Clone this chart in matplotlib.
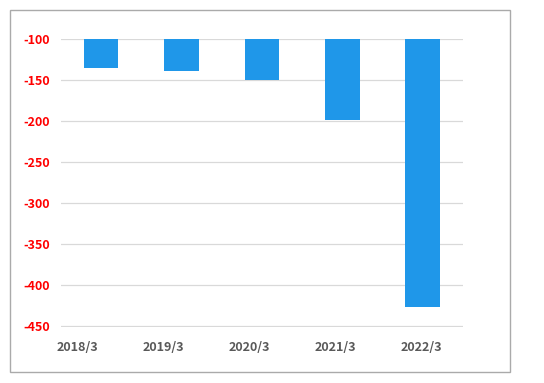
import matplotlib.pyplot as plt
from matplotlib.patches import Rectangle

# Data
periods = ['2018/3', '2019/3', '2020/3', '2021/3', '2022/3']
values = [-135, -138, -149, -199, -427]
yticks = [-100, -150, -200, -250, -300, -350, -400, -450]

plt.rcParams['font.family'] = ['Noto Sans CJK JP', 'DejaVu Sans']

fig = plt.figure(figsize=(5.44, 3.83), dpi=100)
ax = fig.add_axes([0.112, 0.146, 0.739, 0.751])

x = list(range(len(periods)))
ax.bar(x, values, width=0.43, color='#1f97e9', zorder=2)

ax.set_xlim(-0.5, 4.5)
ax.set_ylim(-451.5, -100)
ax.set_yticks(yticks)
ax.set_yticklabels([str(v) for v in yticks], color='#ff0000', fontweight='bold', fontsize=9)
ax.tick_params(axis='y', length=0, pad=8)
ax.yaxis.grid(True, color='#d9d9d9', linewidth=0.9, zorder=0)
ax.set_xticks([])
for s in ax.spines.values():
    s.set_visible(False)

# category labels (slightly offset from bars, as in the original)
ax2 = ax.twiny()
ax2.set_xlim(-0.198, 4.487)
ax2.xaxis.set_ticks_position('bottom')
ax2.xaxis.set_label_position('bottom')
ax2.set_xticks(x)
ax2.set_xticklabels(periods, color='#595959', fontweight='bold', fontsize=9)
ax2.tick_params(axis='x', length=0, pad=10)
for s in ax2.spines.values():
    s.set_visible(False)

# outer border
fig.add_artist(Rectangle((10 / 544, 1 - 372 / 383), 500 / 544, 362.5 / 383,
                         transform=fig.transFigure, fill=False,
                         edgecolor='#aaaaaa', linewidth=1.0))

fig.savefig('out.png', dpi=100)
